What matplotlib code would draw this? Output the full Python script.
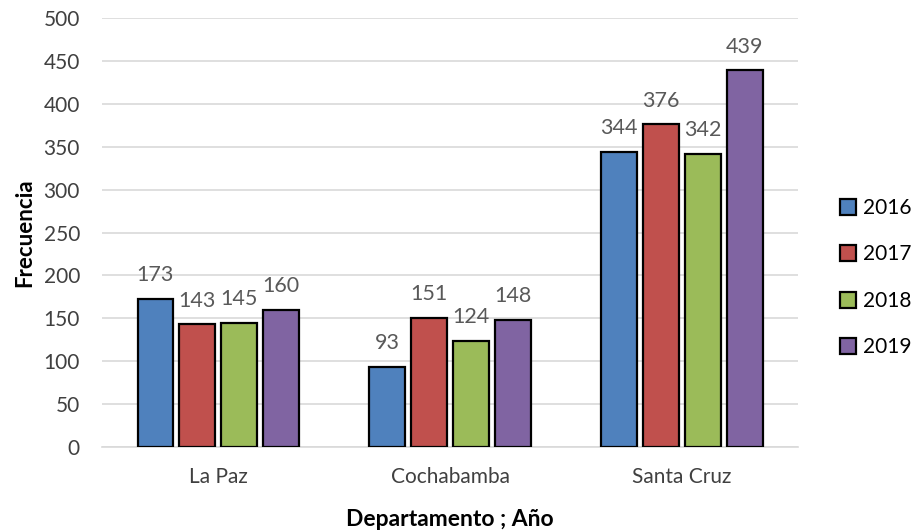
import numpy as np
import matplotlib.pyplot as plt

plt.rcParams['font.family'] = ['Lato', 'DejaVu Sans']

departamentos = ["La Paz", "Cochabamba", "Santa Cruz"]
anios = ["2016", "2017", "2018", "2019"]
frecuencia = {
    "2016": [173, 93, 344],
    "2017": [143, 151, 376],
    "2018": [145, 124, 342],
    "2019": [160, 148, 439],
}
colores = ["#4F81BD", "#C0504D", "#9BBB59", "#8064A2"]

fig = plt.figure(figsize=(9.12, 5.31), dpi=100)
ax = fig.add_axes([0.112, 0.158, 0.763, 0.808])

x = np.arange(len(departamentos))
paso = 0.181
ancho = 0.152
for i, anio in enumerate(anios):
    pos = x + (i - 1.5) * paso
    barras = ax.bar(pos, frecuencia[anio], width=ancho, color=colores[i],
                    edgecolor="black", linewidth=1.6, label=anio, zorder=3)
    ax.bar_label(barras, padding=10, fontsize=15.5, color="#595959")

ax.set_xlim(-0.5, 2.5)
ax.set_ylim(0, 500)
ax.set_yticks(np.arange(0, 501, 50))
ax.set_xticks(x)
ax.set_xticklabels(departamentos)
ax.yaxis.grid(True, color="#D9D9D9", linewidth=1.2, zorder=0)
ax.set_axisbelow(True)
for s in ["top", "right", "left"]:
    ax.spines[s].set_visible(False)
ax.spines["bottom"].set_color("#D9D9D9")
ax.spines["bottom"].set_linewidth(1.2)
ax.tick_params(axis="both", length=0, labelsize=15, labelcolor="#404040")
ax.tick_params(axis="y", pad=16)
ax.tick_params(axis="x", pad=14)

ax.set_ylabel("Frecuencia", fontsize=16, fontweight="bold", labelpad=6)
ax.set_xlabel("Departamento ; Año", fontsize=16.5, fontweight="bold", labelpad=16)

ax.legend(loc="center left", bbox_to_anchor=(1.048, 0.395), frameon=False,
          fontsize=15, labelspacing=1.27, handlelength=0.8, handleheight=0.8,
          handletextpad=0.3, borderaxespad=0)

fig.savefig("out.png", dpi=100)
